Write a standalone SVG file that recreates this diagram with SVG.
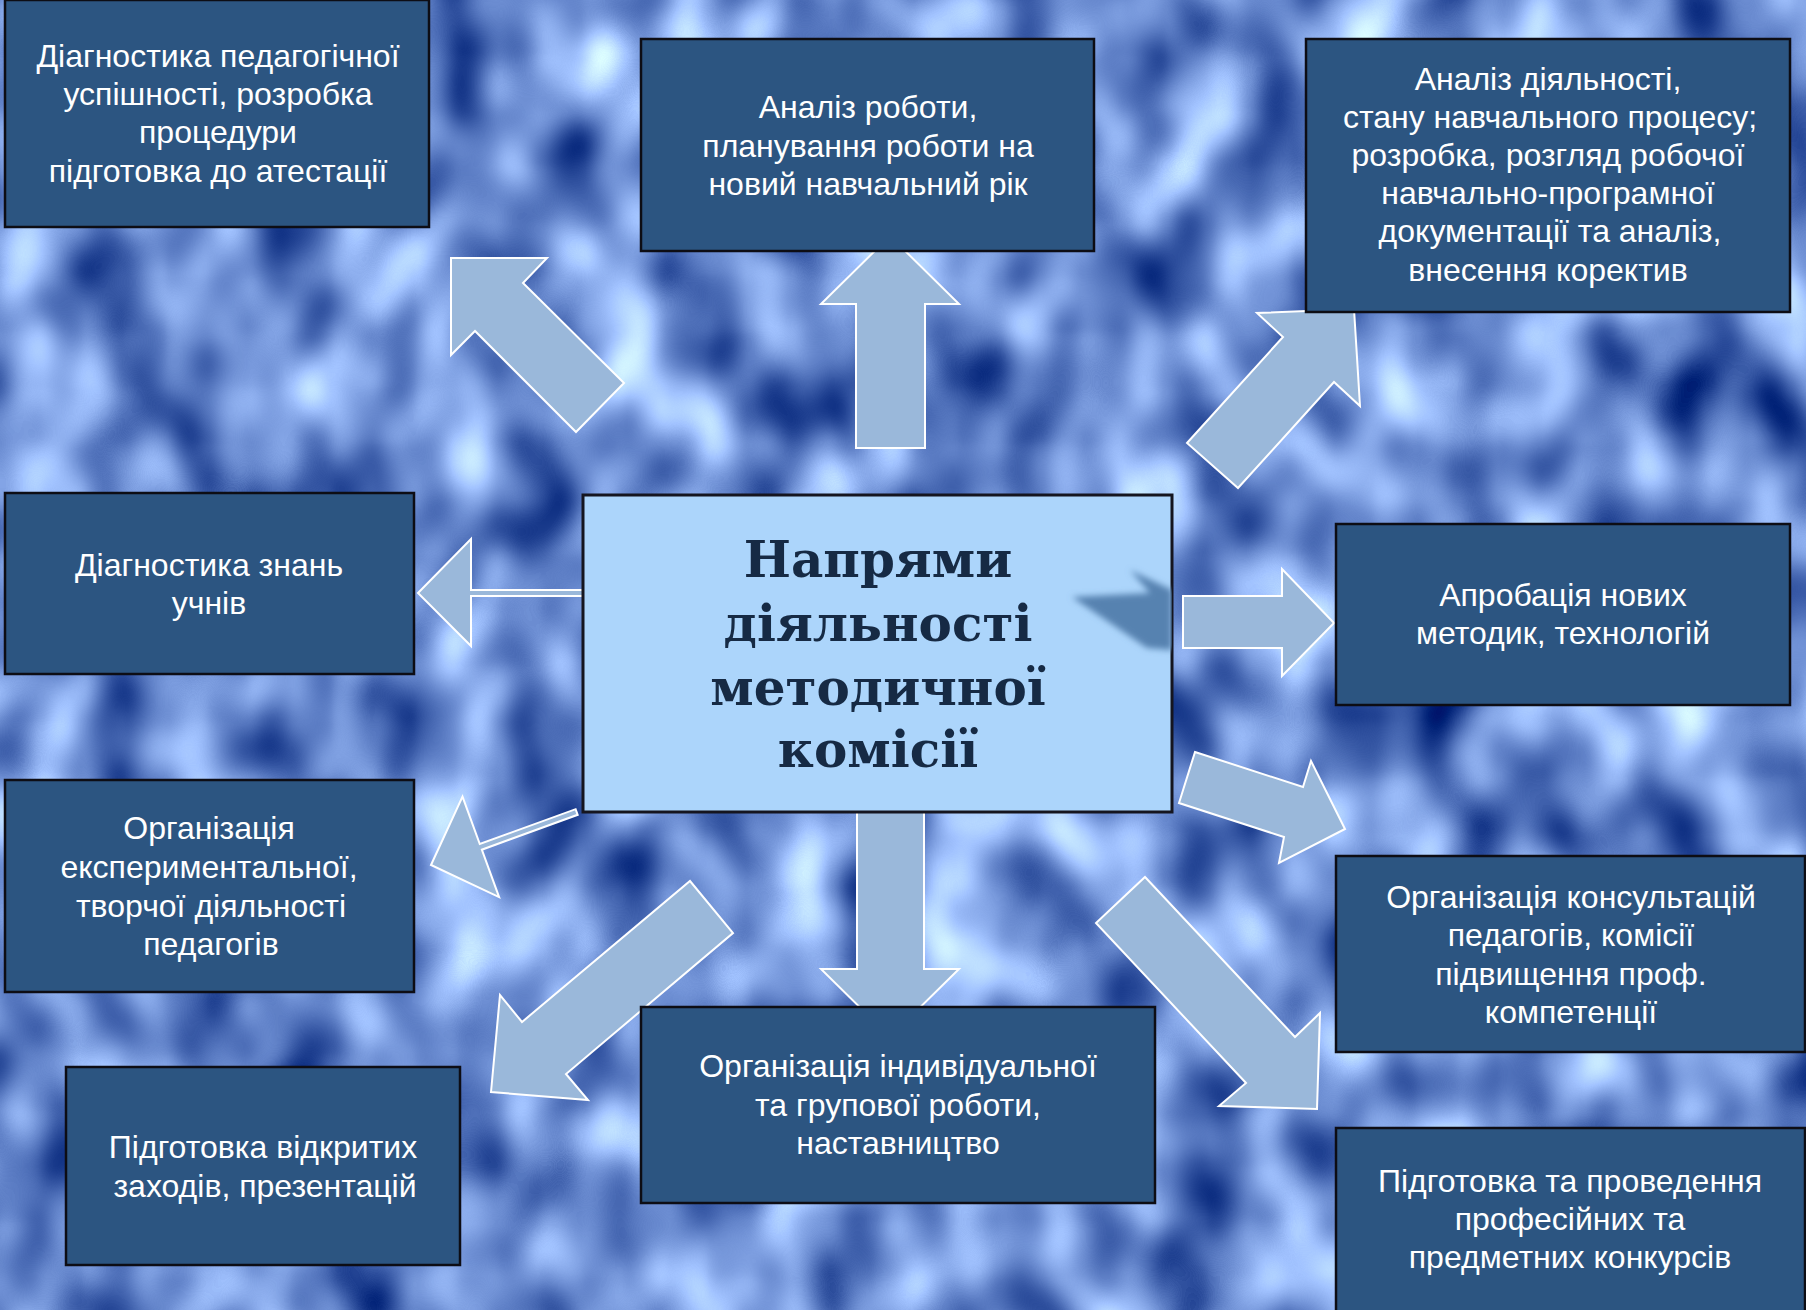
<svg xmlns="http://www.w3.org/2000/svg" width="1806" height="1310" viewBox="0 0 1806 1310">
<defs>
<filter id="bgnoise" x="0" y="0" width="100%" height="100%" filterUnits="userSpaceOnUse" color-interpolation-filters="sRGB">
<feTurbulence type="fractalNoise" baseFrequency="0.012 0.009" numOctaves="2" seed="7" result="n"/>
<feColorMatrix in="n" type="matrix" values="1.3 0 0 0 -0.23  1.3 0 0 0 -0.1  1.1 0 0 0 0.27  0 0 0 0 1"/>
</filter>
<filter id="blur3" x="-20%" y="-20%" width="140%" height="140%">
<feGaussianBlur stdDeviation="3"/>
</filter>
<clipPath id="centerClip"><rect x="583" y="495" width="589" height="317"/></clipPath>
</defs>
<style>
.box{fill:#2c5581;stroke:#0d0d14;stroke-width:2.5}
.center{fill:#acd5fb;stroke:#15151f;stroke-width:3}
.lbl{font-family:"Liberation Sans",Arial,sans-serif;font-size:32px;fill:#ffffff;text-anchor:middle}
.title{font-family:"DejaVu Serif","Liberation Serif",serif;font-weight:bold;font-size:50px;fill:#162a44;text-anchor:middle}
.arr{fill:#9ab8da;stroke:#ffffff;stroke-width:2;stroke-linejoin:miter}
</style>
<rect x="0" y="0" width="1806" height="1310" fill="#6f8fcc"/>
<rect x="0" y="0" width="1806" height="1310" filter="url(#bgnoise)"/>

<g id="connectors">
<polygon class="arr" points="451,258 547,258 523,283 624,383 576,432 475,331 451,355"/>
<polygon class="arr" points="890,236 959,304 925,304 925,448 856,448 856,304 821,304"/>
<polygon class="arr" points="1187,443 1283,337 1257,313 1354,309 1360,406 1334,382 1238,488"/>
<polygon class="arr" points="418,593 471,539 471,590 583,590 583,596 471,596 471,646"/>
<polygon class="arr" points="1183,596 1282,596 1282,569 1334,623 1282,676 1282,648 1183,648"/>
<polygon class="arr" transform="translate(431,865) rotate(-20)" points="0,0 53,-53.5 53,-3 155,-3 155,3 53,3 53,53.5"/>
<polygon class="arr" points="1195,752 1303,787 1311,761 1345,829 1279,863 1284,837 1179,803"/>
<polygon class="arr" points="690,881 733,933 566,1074 588,1100 491,1092 500,995 522,1022"/>
<polygon class="arr" points="857,810 924,810 924,969 959,969 890,1037 821,969 857,969"/>
<polygon class="arr" points="1145,877 1295,1037 1320,1013 1317,1109 1219,1106 1246,1083 1096,923"/>
</g>

<g id="n1">
<rect class="box" x="5" y="0" width="424" height="227"/>
<text class="lbl"><tspan x="218" y="67">Діагностика педагогічної</tspan><tspan x="218" y="105">успішності, розробка</tspan><tspan x="218" y="143">процедури</tspan><tspan x="218" y="182">підготовка до атестації</tspan></text>
</g>
<g id="n2">
<rect class="box" x="641" y="39" width="453" height="212"/>
<text class="lbl"><tspan x="868" y="118">Аналіз роботи,</tspan><tspan x="868" y="157">планування роботи на</tspan><tspan x="868" y="195">новий навчальний рік</tspan></text>
</g>
<g id="n3">
<rect class="box" x="1306" y="39" width="484" height="273"/>
<text class="lbl"><tspan x="1548" y="90">Аналіз діяльності,</tspan><tspan x="1550" y="128">стану навчального процесу;</tspan><tspan x="1548" y="166">розробка, розгляд робочої</tspan><tspan x="1548" y="204">навчально-програмної</tspan><tspan x="1550" y="242">документації та аналіз,</tspan><tspan x="1548" y="281">внесення коректив</tspan></text>
</g>
<g id="n4">
<rect class="box" x="5" y="493" width="409" height="181"/>
<text class="lbl"><tspan x="209" y="576">Діагностика знань</tspan><tspan x="209" y="614">учнів</tspan></text>
</g>
<g id="n5">
<rect class="center" x="583" y="495" width="589" height="317"/>
<polygon points="1072,597 1150,593 1130,570 1172,590 1172,650 1147,648" fill="#5682b0" filter="url(#blur3)" clip-path="url(#centerClip)"/>
<text class="title"><tspan x="878" y="577">Напрями</tspan><tspan x="878" y="641">діяльності</tspan><tspan x="878" y="705">методичної</tspan><tspan x="878" y="767">комісії</tspan></text>
</g>
<g id="n6">
<rect class="box" x="1336" y="524" width="454" height="181"/>
<text class="lbl"><tspan x="1563" y="606">Апробація нових</tspan><tspan x="1563" y="644">методик, технологій</tspan></text>
</g>
<g id="n7">
<rect class="box" x="5" y="780" width="409" height="212"/>
<text class="lbl"><tspan x="209" y="839">Організація</tspan><tspan x="209" y="878">експериментальної,</tspan><tspan x="211" y="917">творчої діяльності</tspan><tspan x="211" y="955">педагогів</tspan></text>
</g>
<g id="n8">
<rect class="box" x="1336" y="856" width="469" height="196"/>
<text class="lbl"><tspan x="1571" y="908">Організація консультацій</tspan><tspan x="1571" y="946">педагогів, комісії</tspan><tspan x="1571" y="985">підвищення проф.</tspan><tspan x="1571" y="1023">компетенції</tspan></text>
</g>
<g id="n9">
<rect class="box" x="66" y="1067" width="394" height="198"/>
<text class="lbl"><tspan x="263" y="1158">Підготовка відкритих</tspan><tspan x="265" y="1197">заходів, презентацій</tspan></text>
</g>
<g id="n10">
<rect class="box" x="641" y="1007" width="514" height="196"/>
<text class="lbl"><tspan x="898" y="1077">Організація індивідуальної</tspan><tspan x="898" y="1116">та групової роботи,</tspan><tspan x="898" y="1154">наставництво</tspan></text>
</g>
<g id="n11">
<rect class="box" x="1336" y="1128" width="469" height="184"/>
<text class="lbl"><tspan x="1570" y="1192">Підготовка та проведення</tspan><tspan x="1570" y="1230">професійних та</tspan><tspan x="1570" y="1268">предметних конкурсів</tspan></text>
</g>
</svg>
